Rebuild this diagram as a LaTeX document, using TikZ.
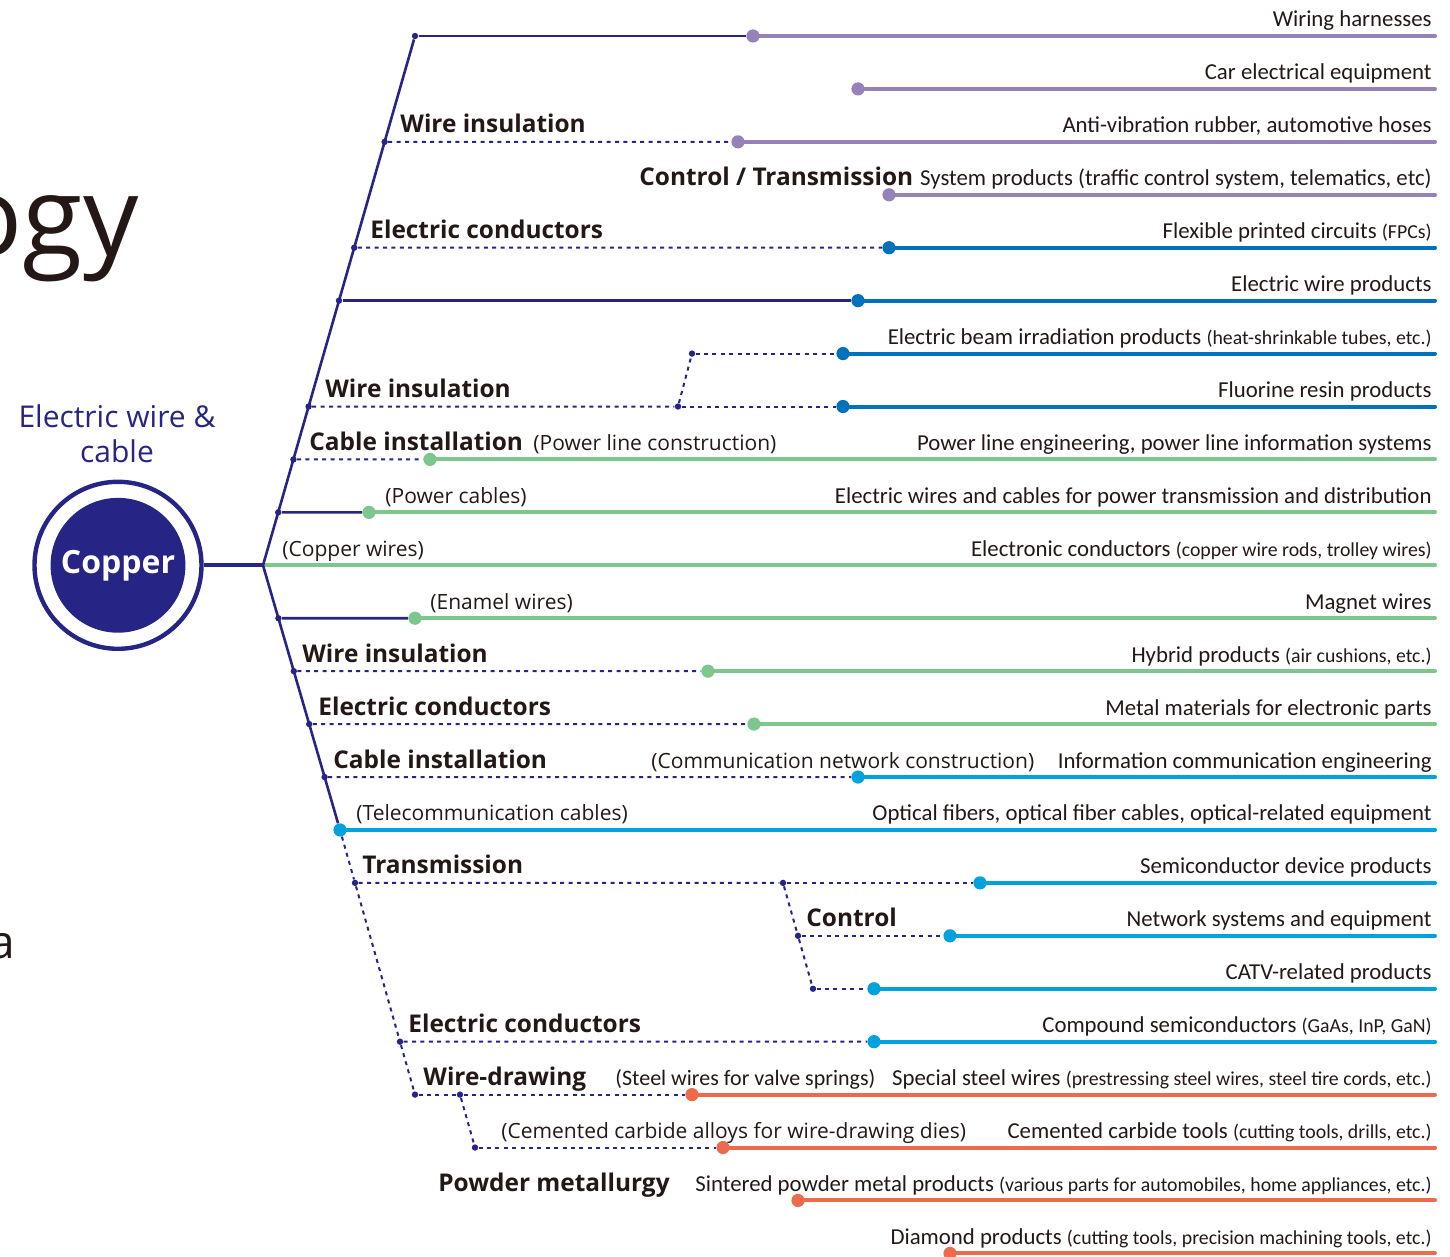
\documentclass[tikz,border=0pt]{standalone}
\usepackage{fontspec}
\setmainfont{Open Sans}
\newfontfamily\prodfont{Carlito}
\usetikzlibrary{calc}
\definecolor{navy}{HTML}{262484}
\definecolor{ink}{HTML}{231815}
\definecolor{purp}{HTML}{9682B9}
\definecolor{dblue}{HTML}{0071BC}
\definecolor{lblue}{HTML}{00A2DD}
\definecolor{grn}{HTML}{7DC68C}
\definecolor{orng}{HTML}{EC6B4C}
\newcommand\aside[1]{{\fontsize{9.9}{12}\selectfont #1}}

\tikzset{
  trunk/.style={draw=navy, line width=1.3pt},
  feed/.style={draw=navy, line width=1pt, dash pattern=on 2pt off 2.2pt},
  jdot/.style={circle, fill=navy, inner sep=0pt, minimum size=3.2pt},
  pdot/.style={circle, fill=#1, inner sep=0pt, minimum size=6.6pt},
  bar/.style={draw=#1, line width=2pt, line cap=round},
  cat/.style={anchor=base west, yshift=4.5pt, inner sep=0pt, text=ink,
    font=\bfseries\fontsize{12.2}{15}\selectfont},
  note/.style={anchor=base west, yshift=4.5pt, inner sep=0pt, text=ink,
    font=\fontsize{10.5}{12}\selectfont},
  pnote/.style={note, font=\prodfont\fontsize{11}{13}\selectfont},
  prod/.style={anchor=base east, yshift=4.5pt, inner sep=0pt, text=ink,
    font=\prodfont\fontsize{11.4}{13}\selectfont}
}

\begin{document}
\begin{tikzpicture}[x=0.5pt, y=-26.465pt]
  \useasboundingbox (0,-0.68) rectangle (1450,23.05);

  % cut-off title letters
  \node[anchor=base east, inner sep=0pt, text=ink, font=\fontsize{55}{58}\selectfont] (title) at (139,4.15) {ogy};
  \node[anchor=base east, inner sep=0pt, text=ink, font=\fontsize{23}{25}\selectfont] (side) at (15,17.42) {a};

  % product lines
  \foreach \r/\xs/\col/\txt in {
    0/753/purp/{Wiring harnesses},
    1/858/purp/{Car electrical equipment},
    2/738/purp/{Anti-vibration rubber, automotive hoses},
    3/889/purp/{System products (traffic control system, telematics, etc)},
    4/889/dblue/{Flexible printed circuits \aside{(FPCs)}},
    5/858/dblue/{Electric wire products},
    6/843/dblue/{Electric beam irradiation products \aside{(heat-shrinkable tubes, etc.)}},
    7/843/dblue/{Fluorine resin products},
    8/430/grn/{Power line engineering, power line information systems},
    9/369/grn/{Electric wires and cables for power transmission and distribution},
    11/415/grn/{Magnet wires},
    12/708/grn/{Hybrid products \aside{(air cushions, etc.)}},
    13/754/grn/{Metal materials for electronic parts},
    14/858/lblue/{Information communication engineering},
    15/340/lblue/{Optical fibers, optical fiber cables, optical-related equipment},
    16/980/lblue/{Semiconductor device products},
    17/950/lblue/{Network systems and equipment},
    18/874/lblue/{CATV-related products},
    19/874/lblue/{Compound semiconductors \aside{(GaAs, InP, GaN)}},
    20/692/orng/{Special steel wires \aside{(prestressing steel wires, steel tire cords, etc.)}},
    21/723/orng/{Cemented carbide tools \aside{(cutting tools, drills, etc.)}},
    22/798/orng/{Sintered powder metal products \aside{(various parts for automobiles, home appliances, etc.)}},
    23/950/orng/{Diamond products \aside{(cutting tools, precision machining tools, etc.)}}}
  {
    \coordinate (s\r) at (\xs,\r);
    \coordinate (e\r) at (1435,\r);
    \draw[bar=\col] (s\r) -- (e\r);
    \node[pdot=\col] (p\r) at (s\r) {};
    \node[prod] (t\r) at (1432,\r) {\txt};
  }

  % copper and trunk
  \coordinate (hub) at (263,10);
  \coordinate (e10) at (1435,10);
  \draw[bar=grn] (hub) -- (e10);
  \node[prod] (t10) at (1432,10) {Electronic conductors \aside{(copper wire rods, trolley wires)}};
  \node[circle, draw=navy, line width=2.2pt, minimum size=83.5pt] (cu) at (118,10) {};
  \node[circle, fill=navy, minimum size=65pt, text=white,
    font=\bfseries\fontsize{16}{18}\selectfont] (core) at (cu) {Copper};
  \node[text=navy, align=center, font=\fontsize{15}{17.5}\selectfont] (kind) at (117,7.52) {Electric wire \&\\cable};
  \draw[navy, line width=2pt] (cu) -- (hub);

  \node[jdot] (top) at (415,0) {};
  \coordinate (tail) at (415,20);
  \draw[trunk] (top) -- (hub) -- (p15);
  \foreach \r in {2,4,5,7,8,9}
    \node[jdot] (j\r) at ($(hub)!{(10-\r)/10}!(top)$) {};
  \foreach \r in {11,...,14}
    \node[jdot] (j\r) at ($(hub)!{(\r-10)/5}!(p15)$) {};
  \foreach \r in {16,19,20}
    \node[jdot] (j\r) at ($(p15)!{(\r-15)/5}!(tail)$) {};
  \draw[feed] (p15) -- (j16) -- (j19) -- (j20);

  % side junctions
  \node[jdot] (k6) at (692,6) {};
  \node[jdot] (k7) at (678,7) {};
  \node[jdot] (k16) at (783,16) {};
  \node[jdot] (k17) at (798,17) {};
  \node[jdot] (k18) at (813,18) {};
  \node[jdot] (k20) at (460,20) {};
  \node[jdot] (k21) at (475,21) {};

  % connectors
  \foreach \a/\b in {top/p0, j5/p5, j9/p9, j11/p11}
    \draw[trunk] (\a) -- (\b);
  \foreach \a/\b in {j2/p2, j4/p4, j7/k7, k7/p7, k7/k6, k6/p6, j8/p8, j12/p12,
      j13/p13, j14/p14, j16/k16, k16/p16, k16/k17, k17/k18, k17/p17, k18/p18,
      j19/p19, j20/k20, k20/p20, k20/k21, k21/p21}
    \draw[feed] (\a) -- (\b);

  % categories
  \node[cat] (c2) at (400,2) {Wire insulation};
  \node[cat] (c3) at (639,3) {Control / Transmission};
  \node[cat] (c4) at (370,4) {Electric conductors};
  \node[cat] (c7) at (325,7) {Wire insulation};
  \node[cat] (c8) at (309,8) {Cable installation};
  \node[cat] (c12) at (302,12) {Wire insulation};
  \node[cat] (c13) at (318,13) {Electric conductors};
  \node[cat] (c14) at (333,14) {Cable installation};
  \node[cat] (c16) at (362,16) {Transmission};
  \node[cat] (c17) at (806,17) {Control};
  \node[cat] (c19) at (408,19) {Electric conductors};
  \node[cat] (c20) at (423,20) {Wire-drawing};
  \node[cat] (c22) at (438,22) {Powder metallurgy};

  % materials
  \node[note] (n8) at (533,8) {(Power line construction)};
  \node[note] (n9) at (385,9) {(Power cables)};
  \node[note] (n10) at (282,10) {(Copper wires)};
  \node[note] (n11) at (430,11) {(Enamel wires)};
  \node[note] (n14) at (651,14) {(Communication network construction)};
  \node[note] (n15) at (356,15) {(Telecommunication cables)};
  \node[pnote] (n20) at (615,20) {(Steel wires for valve springs)};
  \node[note] (n21) at (501,21) {(Cemented carbide alloys for wire-drawing dies)};
\end{tikzpicture}
\end{document}
